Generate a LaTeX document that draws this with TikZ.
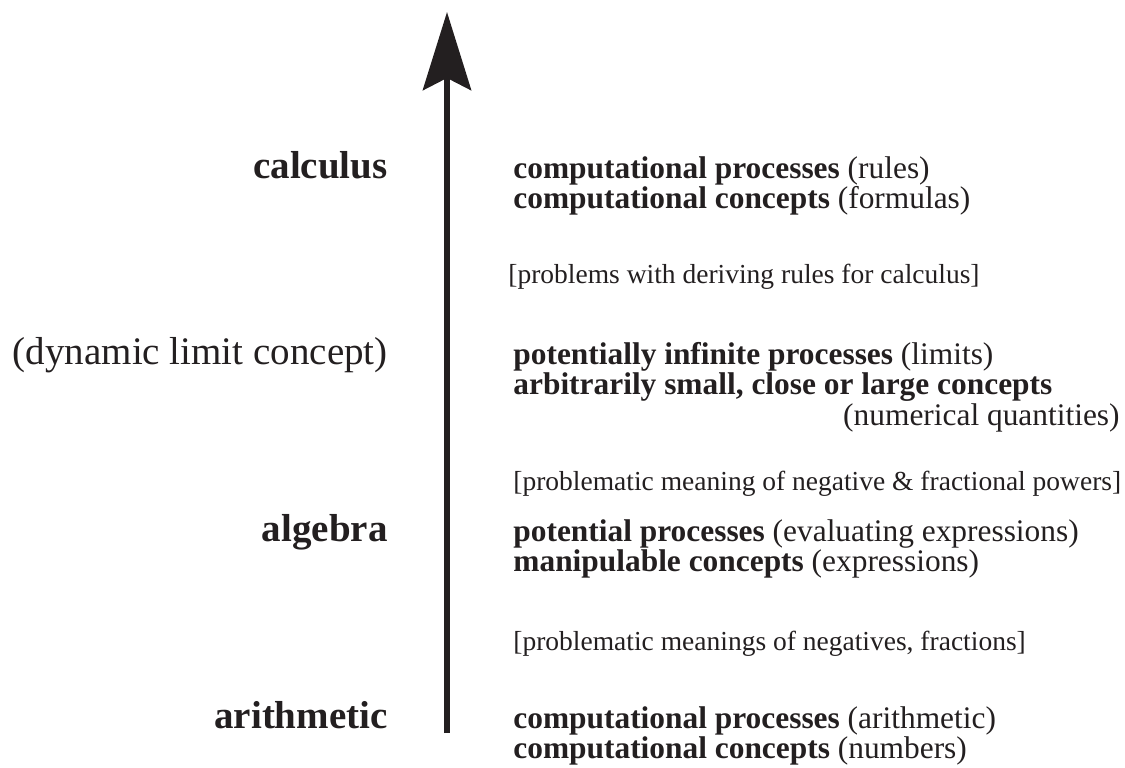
\documentclass[tikz,border=0pt]{standalone}
\usepackage{fontspec}
\setmainfont{Liberation Serif}
\usetikzlibrary{positioning, arrows.meta}
\definecolor{ink}{RGB}{35,31,32}

\begin{document}
\begin{tikzpicture}[x=0.5pt, y=-0.5pt,
  level/.style={inner sep=0pt, text=ink, anchor=base east,
                font=\fontsize{19.5}{23}\selectfont},
  desc/.style={inner sep=0pt, text=ink, anchor=base west,
               font=\fontsize{15.7}{18}\selectfont},
  note/.style={inner sep=0pt, text=ink, anchor=base west,
               font=\fontsize{13.75}{16}\selectfont},
  axis/.style={-{Stealth[length=39pt, width=24pt, inset=6pt]}, line width=3.3pt, draw=ink},
]
\useasboundingbox (0,0) rectangle (1125,767);

% Axis
\coordinate (axisbot) at (447,733);
\coordinate (axistop) at (447,12);
\draw[axis] (axisbot) -- (axistop);

% Levels
\node[level] (calc) at (388,178) {\bfseries calculus};
\node[level] (dyn)  at (388,364) {(dynamic limit concept)};
\node[level] (alg)  at (388,541) {\bfseries algebra};
\node[level] (arith) at (388,728) {\bfseries arithmetic};

% Calculus
\node[desc] (calc1) at (513,178) {\textbf{computational processes} (rules)};
\node[desc, below=15pt of calc1.base west, anchor=base west] (calc2)
  {\textbf{computational concepts} (formulas)};
\node[note] (prob1) at (508,283) {[problems with deriving rules for calculus]};

% Dynamic limit
\node[desc] (dyn1) at (513,364) {\textbf{potentially infinite processes} (limits)};
\node[desc, below=15pt of dyn1.base west, anchor=base west] (dyn2)
  {\textbf{arbitrarily small, close or large concepts}};
\node[desc, anchor=base east] (dyn3) at (1120,425) {(numerical quantities)};
\node[note] (prob2) at (513,490) {[problematic meaning of negative \& fractional powers]};

% Algebra
\node[desc] (alg1) at (513,541) {\textbf{potential processes} (evaluating expressions)};
\node[desc, below=15pt of alg1.base west, anchor=base west] (alg2)
  {\textbf{manipulable concepts} (expressions)};
\node[note] (prob3) at (513,650) {[problematic meanings of negatives, fractions]};

% Arithmetic
\node[desc] (arith1) at (513,728) {\textbf{computational processes} (arithmetic)};
\node[desc, below=15pt of arith1.base west, anchor=base west] (arith2)
  {\textbf{computational concepts} (numbers)};

\end{tikzpicture}
\end{document}
